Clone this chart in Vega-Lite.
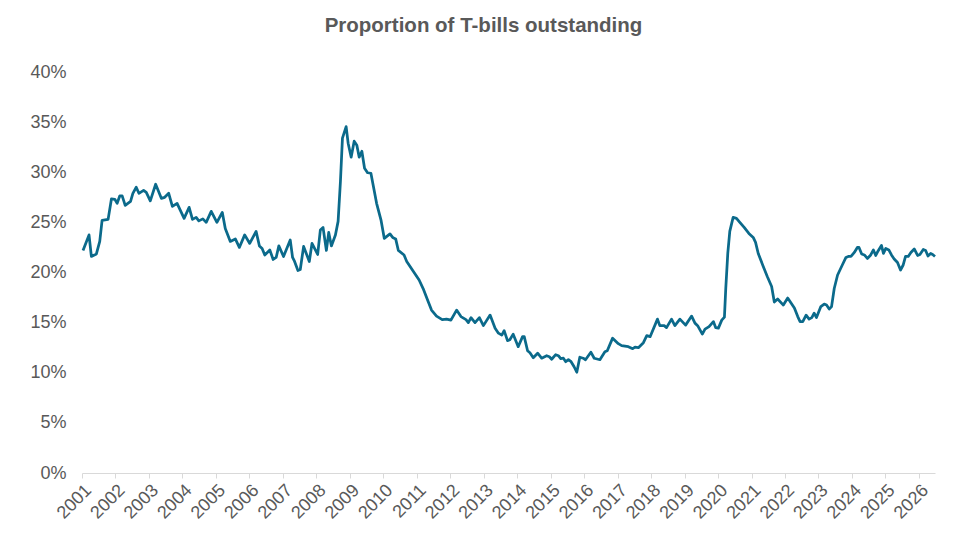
{
  "$schema": "https://vega.github.io/schema/vega-lite/v6.json",
  "autosize": "none",
  "width": 853,
  "height": 401,
  "padding": {"left": 82, "top": 72, "right": 31, "bottom": 84},
  "background": "white",
  "title": {
    "text": "Proportion of T-bills outstanding",
    "anchor": "middle",
    "frame": "group",
    "dx": -25,
    "offset": 11,
    "baseline": "alphabetic",
    "font": "Liberation Sans",
    "fontSize": 20.5,
    "fontWeight": "bold",
    "color": "#595959"
  },
  "config": {
    "view": {"stroke": null},
    "font": "Liberation Sans"
  },
  "data": {
    "values": [
      {"year": 2001.03, "share": 22.2}, {"year": 2001.21, "share": 23.75}, {"year": 2001.28, "share": 21.6},
      {"year": 2001.43, "share": 21.85}, {"year": 2001.53, "share": 23.1}, {"year": 2001.6, "share": 25.2},
      {"year": 2001.78, "share": 25.3}, {"year": 2001.88, "share": 27.35}, {"year": 2001.98, "share": 27.3},
      {"year": 2002.05, "share": 26.9}, {"year": 2002.13, "share": 27.65}, {"year": 2002.2, "share": 27.65},
      {"year": 2002.29, "share": 26.7}, {"year": 2002.45, "share": 27.1}, {"year": 2002.52, "share": 27.9},
      {"year": 2002.62, "share": 28.5}, {"year": 2002.7, "share": 27.9}, {"year": 2002.84, "share": 28.2},
      {"year": 2002.92, "share": 28.0}, {"year": 2003.04, "share": 27.15}, {"year": 2003.2, "share": 28.8},
      {"year": 2003.37, "share": 27.4}, {"year": 2003.47, "share": 27.5}, {"year": 2003.59, "share": 27.9},
      {"year": 2003.7, "share": 26.6}, {"year": 2003.84, "share": 26.9}, {"year": 2004.05, "share": 25.4},
      {"year": 2004.2, "share": 26.5}, {"year": 2004.3, "share": 25.3}, {"year": 2004.41, "share": 25.5},
      {"year": 2004.49, "share": 25.15}, {"year": 2004.61, "share": 25.35}, {"year": 2004.71, "share": 25.0},
      {"year": 2004.86, "share": 26.1}, {"year": 2005.03, "share": 25.0}, {"year": 2005.19, "share": 26.0},
      {"year": 2005.28, "share": 24.4}, {"year": 2005.43, "share": 23.1}, {"year": 2005.58, "share": 23.35},
      {"year": 2005.7, "share": 22.5}, {"year": 2005.86, "share": 23.75}, {"year": 2006.01, "share": 22.9},
      {"year": 2006.2, "share": 24.1}, {"year": 2006.3, "share": 22.65}, {"year": 2006.38, "share": 22.4},
      {"year": 2006.46, "share": 21.75}, {"year": 2006.61, "share": 22.25}, {"year": 2006.71, "share": 21.3},
      {"year": 2006.8, "share": 21.5}, {"year": 2006.88, "share": 22.65}, {"year": 2007.02, "share": 21.6},
      {"year": 2007.22, "share": 23.25}, {"year": 2007.29, "share": 21.5}, {"year": 2007.35, "share": 21.1},
      {"year": 2007.45, "share": 20.2}, {"year": 2007.52, "share": 20.3}, {"year": 2007.62, "share": 22.6},
      {"year": 2007.79, "share": 21.1}, {"year": 2007.87, "share": 22.9}, {"year": 2008.04, "share": 21.8},
      {"year": 2008.12, "share": 24.25}, {"year": 2008.2, "share": 24.5}, {"year": 2008.3, "share": 22.2},
      {"year": 2008.37, "share": 24.0}, {"year": 2008.45, "share": 22.65}, {"year": 2008.57, "share": 23.75},
      {"year": 2008.65, "share": 25.1}, {"year": 2008.72, "share": 29.1}, {"year": 2008.78, "share": 33.4},
      {"year": 2008.89, "share": 34.55}, {"year": 2008.95, "share": 32.9}, {"year": 2009.04, "share": 31.5},
      {"year": 2009.13, "share": 33.1}, {"year": 2009.21, "share": 32.7}, {"year": 2009.28, "share": 31.5},
      {"year": 2009.36, "share": 32.1}, {"year": 2009.44, "share": 30.4}, {"year": 2009.53, "share": 29.95},
      {"year": 2009.63, "share": 29.9}, {"year": 2009.8, "share": 26.9}, {"year": 2009.93, "share": 25.25},
      {"year": 2010.03, "share": 23.4}, {"year": 2010.2, "share": 23.85}, {"year": 2010.28, "share": 23.5},
      {"year": 2010.37, "share": 23.35}, {"year": 2010.45, "share": 22.2}, {"year": 2010.62, "share": 21.75},
      {"year": 2010.7, "share": 21.1}, {"year": 2010.9, "share": 20.1}, {"year": 2011.07, "share": 19.25},
      {"year": 2011.19, "share": 18.4}, {"year": 2011.34, "share": 17.1}, {"year": 2011.44, "share": 16.25},
      {"year": 2011.59, "share": 15.65}, {"year": 2011.76, "share": 15.3}, {"year": 2011.89, "share": 15.35},
      {"year": 2012.02, "share": 15.25}, {"year": 2012.19, "share": 16.25}, {"year": 2012.32, "share": 15.6},
      {"year": 2012.47, "share": 15.3}, {"year": 2012.54, "share": 15.0}, {"year": 2012.62, "share": 15.5},
      {"year": 2012.74, "share": 15.0}, {"year": 2012.87, "share": 15.5}, {"year": 2012.99, "share": 14.7},
      {"year": 2013.19, "share": 15.75}, {"year": 2013.34, "share": 14.45}, {"year": 2013.44, "share": 13.95},
      {"year": 2013.54, "share": 13.75}, {"year": 2013.61, "share": 14.2}, {"year": 2013.71, "share": 13.2},
      {"year": 2013.78, "share": 13.3}, {"year": 2013.88, "share": 13.85}, {"year": 2014.03, "share": 12.6},
      {"year": 2014.16, "share": 13.6}, {"year": 2014.21, "share": 13.6}, {"year": 2014.31, "share": 12.2},
      {"year": 2014.38, "share": 12.0}, {"year": 2014.48, "share": 11.5}, {"year": 2014.61, "share": 11.95},
      {"year": 2014.73, "share": 11.45}, {"year": 2014.88, "share": 11.7}, {"year": 2014.96, "share": 11.6},
      {"year": 2015.03, "share": 11.35}, {"year": 2015.15, "share": 11.8}, {"year": 2015.23, "share": 11.7},
      {"year": 2015.3, "share": 11.4}, {"year": 2015.38, "share": 11.45}, {"year": 2015.45, "share": 11.1},
      {"year": 2015.53, "share": 11.3}, {"year": 2015.61, "share": 11.1}, {"year": 2015.7, "share": 10.6},
      {"year": 2015.78, "share": 10.05}, {"year": 2015.87, "share": 11.55}, {"year": 2015.97, "share": 11.45},
      {"year": 2016.04, "share": 11.3}, {"year": 2016.2, "share": 12.05}, {"year": 2016.3, "share": 11.45},
      {"year": 2016.47, "share": 11.3}, {"year": 2016.62, "share": 12.1}, {"year": 2016.69, "share": 12.2},
      {"year": 2016.85, "share": 13.45}, {"year": 2017.02, "share": 12.9}, {"year": 2017.12, "share": 12.7},
      {"year": 2017.32, "share": 12.6}, {"year": 2017.45, "share": 12.4}, {"year": 2017.52, "share": 12.55},
      {"year": 2017.62, "share": 12.5}, {"year": 2017.77, "share": 13.0}, {"year": 2017.87, "share": 13.7},
      {"year": 2017.97, "share": 13.6}, {"year": 2018.19, "share": 15.35}, {"year": 2018.26, "share": 14.7},
      {"year": 2018.39, "share": 14.7}, {"year": 2018.46, "share": 14.5}, {"year": 2018.61, "share": 15.35},
      {"year": 2018.71, "share": 14.7}, {"year": 2018.86, "share": 15.35}, {"year": 2019.03, "share": 14.75},
      {"year": 2019.21, "share": 15.65}, {"year": 2019.31, "share": 14.95}, {"year": 2019.39, "share": 14.7},
      {"year": 2019.53, "share": 13.85}, {"year": 2019.61, "share": 14.35}, {"year": 2019.73, "share": 14.6},
      {"year": 2019.86, "share": 15.1}, {"year": 2019.93, "share": 14.5}, {"year": 2020.01, "share": 14.45},
      {"year": 2020.11, "share": 15.25}, {"year": 2020.19, "share": 15.55}, {"year": 2020.23, "share": 18.4},
      {"year": 2020.29, "share": 21.9}, {"year": 2020.35, "share": 24.1}, {"year": 2020.45, "share": 25.5},
      {"year": 2020.55, "share": 25.4}, {"year": 2020.65, "share": 25.0}, {"year": 2020.78, "share": 24.5},
      {"year": 2020.92, "share": 23.9}, {"year": 2021.05, "share": 23.5}, {"year": 2021.12, "share": 23.0},
      {"year": 2021.2, "share": 21.9}, {"year": 2021.35, "share": 20.6}, {"year": 2021.47, "share": 19.6},
      {"year": 2021.6, "share": 18.6}, {"year": 2021.68, "share": 17.05}, {"year": 2021.78, "share": 17.35},
      {"year": 2021.95, "share": 16.75}, {"year": 2022.08, "share": 17.45}, {"year": 2022.2, "share": 16.85},
      {"year": 2022.28, "share": 16.45}, {"year": 2022.38, "share": 15.6}, {"year": 2022.45, "share": 15.1},
      {"year": 2022.53, "share": 15.1}, {"year": 2022.63, "share": 15.75}, {"year": 2022.72, "share": 15.35},
      {"year": 2022.8, "share": 15.5}, {"year": 2022.87, "share": 15.95}, {"year": 2022.94, "share": 15.5},
      {"year": 2023.07, "share": 16.6}, {"year": 2023.17, "share": 16.85}, {"year": 2023.24, "share": 16.75},
      {"year": 2023.32, "share": 16.35}, {"year": 2023.39, "share": 16.6}, {"year": 2023.47, "share": 18.4},
      {"year": 2023.57, "share": 19.75}, {"year": 2023.69, "share": 20.6}, {"year": 2023.82, "share": 21.5},
      {"year": 2023.89, "share": 21.6}, {"year": 2023.97, "share": 21.6}, {"year": 2024.07, "share": 22.0},
      {"year": 2024.16, "share": 22.5}, {"year": 2024.21, "share": 22.5}, {"year": 2024.29, "share": 21.85},
      {"year": 2024.37, "share": 21.75}, {"year": 2024.46, "share": 21.4}, {"year": 2024.56, "share": 21.75},
      {"year": 2024.64, "share": 22.25}, {"year": 2024.71, "share": 21.7}, {"year": 2024.78, "share": 22.15},
      {"year": 2024.88, "share": 22.7}, {"year": 2024.94, "share": 21.9}, {"year": 2025.01, "share": 22.4},
      {"year": 2025.1, "share": 22.25}, {"year": 2025.18, "share": 21.75}, {"year": 2025.26, "share": 21.35},
      {"year": 2025.36, "share": 21.0}, {"year": 2025.45, "share": 20.25}, {"year": 2025.53, "share": 20.75},
      {"year": 2025.6, "share": 21.6}, {"year": 2025.68, "share": 21.6}, {"year": 2025.76, "share": 22.0},
      {"year": 2025.86, "share": 22.35}, {"year": 2025.96, "share": 21.7}, {"year": 2026.03, "share": 21.8},
      {"year": 2026.13, "share": 22.3}, {"year": 2026.2, "share": 22.2}, {"year": 2026.27, "share": 21.65},
      {"year": 2026.35, "share": 21.9}, {"year": 2026.41, "share": 21.8}, {"year": 2026.48, "share": 21.6}
    ]
  },
  "mark": {"type": "line", "color": "#0b6a8b", "strokeWidth": 2.75, "strokeJoin": "round"},
  "encoding": {
    "x": {
      "field": "year",
      "type": "quantitative",
      "title": null,
      "scale": {"domain": [2001, 2026.48], "nice": false, "zero": false},
      "axis": {
        "values": [2001, 2002, 2003, 2004, 2005, 2006, 2007, 2008, 2009, 2010, 2011, 2012, 2013, 2014, 2015, 2016, 2017, 2018, 2019, 2020, 2021, 2022, 2023, 2024, 2025, 2026],
        "format": "d",
        "grid": false,
        "labelAngle": -45,
        "labelFontSize": 18,
        "labelColor": "#595959",
        "labelPadding": 3,
        "domainColor": "#d9d9d9",
        "tickColor": "#d9d9d9",
        "tickSize": 5,
        "labelFlush": false,
        "labelOverlap": false
      }
    },
    "y": {
      "field": "share",
      "type": "quantitative",
      "title": null,
      "scale": {"domain": [0, 40], "nice": false},
      "axis": {
        "values": [0, 5, 10, 15, 20, 25, 30, 35, 40],
        "labelExpr": "datum.value + '%'",
        "grid": false,
        "domain": false,
        "ticks": false,
        "labelFontSize": 18,
        "labelColor": "#595959",
        "labelPadding": 16
      }
    }
  }
}
